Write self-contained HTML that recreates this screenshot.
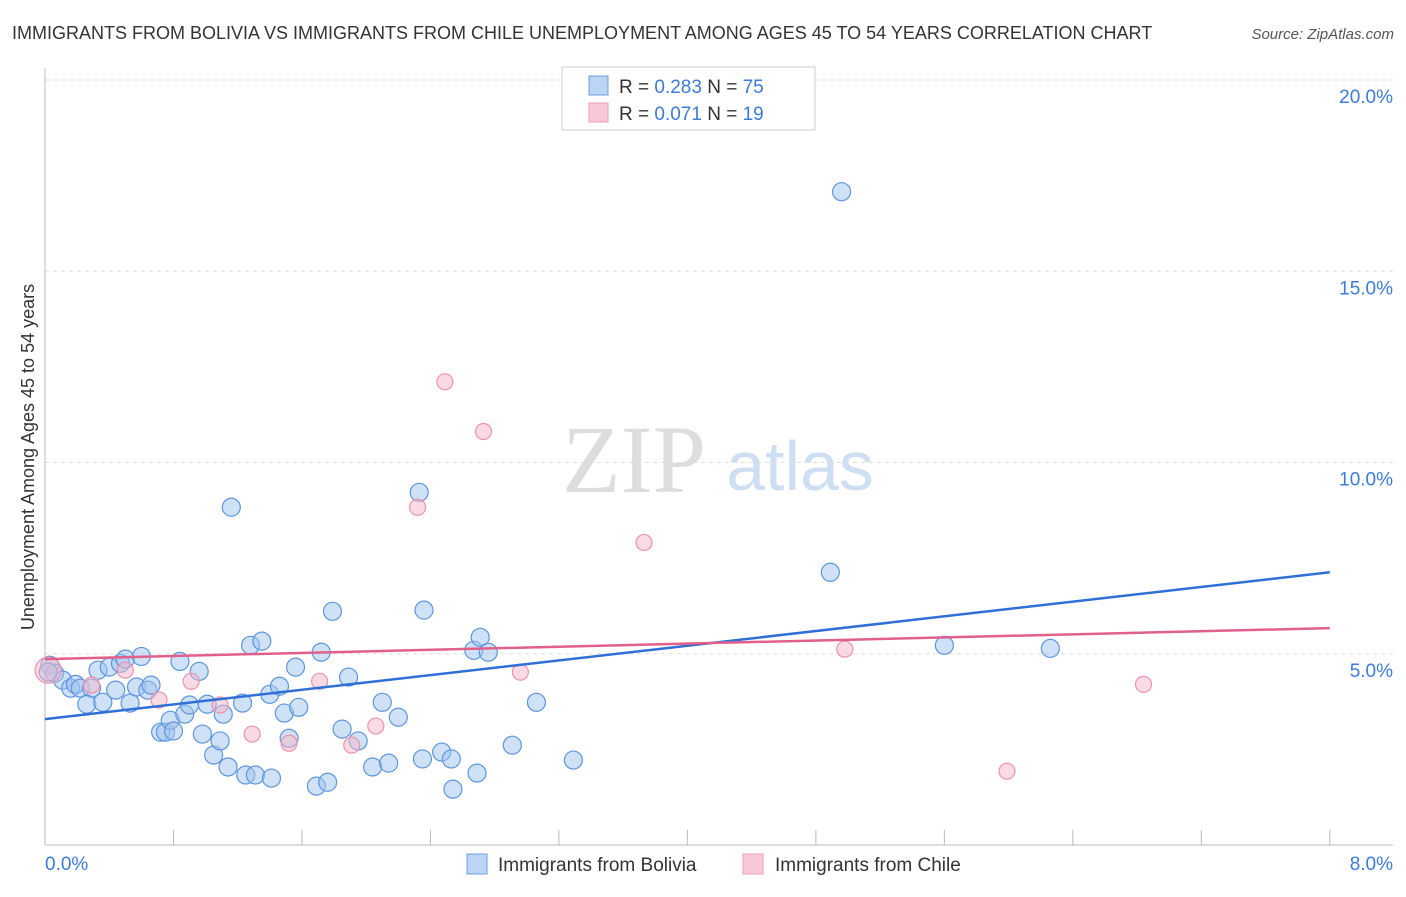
<!DOCTYPE html>
<html><head><meta charset="utf-8"><style>
body{margin:0;background:#fff;font-family:"Liberation Sans",sans-serif}
</style></head><body>
<svg id="c" width="1406" height="892" xmlns="http://www.w3.org/2000/svg" font-family="Liberation Sans, sans-serif">
<text x="12" y="39" font-size="18" fill="#333">IMMIGRANTS FROM BOLIVIA VS IMMIGRANTS FROM CHILE UNEMPLOYMENT AMONG AGES 45 TO 54 YEARS CORRELATION CHART</text>
<text x="1394" y="39" font-size="15" fill="#555" text-anchor="end" font-style="italic">Source: ZipAtlas.com</text>
<text x="634" y="492" font-size="96" fill="#ddd" font-family="Liberation Serif, serif" text-anchor="middle">ZIP</text>
<text x="800" y="490" font-size="70" fill="#cfdff3" text-anchor="middle">atlas</text>
<text transform="translate(34,457) rotate(-90)" font-size="18" fill="#333" text-anchor="middle">Unemployment Among Ages 45 to 54 years</text>
<g id="grid"></g><g id="axes"></g><g id="pts"></g><g id="lines"></g>
<g>
<rect x="562" y="67" width="253" height="63" fill="#fff" stroke="#ccc"/>
<rect x="589" y="76" width="19" height="19" fill="#bcd5f5" stroke="#6c9ee0"/>
<rect x="589" y="103" width="19" height="19" fill="#f9c8d6" stroke="#eba0b8"/>
<text x="619" y="93" font-size="19" fill="#333">R = <tspan fill="#3d7bd8">0.283</tspan>   N = <tspan fill="#3d7bd8">75</tspan></text>
<text x="619" y="120" font-size="19" fill="#333">R = <tspan fill="#3d7bd8">0.071</tspan>   N = <tspan fill="#3d7bd8"> 19</tspan></text>
</g>
<g>
<rect x="467" y="854" width="20" height="20" fill="#bcd5f5" stroke="#6c9ee0"/>
<text x="498" y="871" font-size="19" fill="#333">Immigrants from Bolivia</text>
<rect x="743" y="854" width="20" height="20" fill="#f9c8d6" stroke="#eba0b8"/>
<text x="775" y="871" font-size="19" fill="#333">Immigrants from Chile</text>
</g>
</svg>
<script>
const blueX=[0.03,0.06,0.11,0.16,0.19,0.22,0.29,0.26,0.33,0.36,0.40,0.44,0.47,0.50,0.53,0.57,0.60,0.64,0.66,0.72,0.75,0.78,0.80,0.84,0.87,0.90,0.96,0.98,1.01,1.05,1.09,1.11,1.14,1.16,1.23,1.25,1.28,1.31,1.35,1.40,1.41,1.46,1.49,1.52,1.56,1.58,1.69,1.76,1.79,1.72,1.85,1.89,1.95,2.04,2.10,2.14,2.20,2.33,2.36,2.35,2.47,2.53,2.54,2.67,2.71,2.76,2.69,2.91,3.06,3.29,4.89,4.96,5.60,6.26,0.02];
const blueY=[4.70,4.49,4.31,4.10,4.20,4.10,4.10,3.68,4.57,3.73,4.65,4.05,4.75,4.86,3.71,4.13,4.93,4.05,4.18,2.95,2.95,3.26,2.98,4.80,3.42,3.66,4.54,2.90,3.68,2.35,2.72,3.42,2.04,8.83,3.71,1.83,5.22,1.83,5.33,3.94,1.75,4.15,3.45,2.79,4.65,3.60,1.54,1.64,6.11,5.04,3.03,4.39,2.72,2.04,3.73,2.14,3.34,9.22,6.14,2.25,2.43,2.25,1.46,5.09,5.43,5.04,1.88,2.61,3.73,2.22,7.13,17.08,5.22,5.14,4.52];
const pinkX=[0.02,0.29,0.50,0.71,0.91,1.09,1.29,1.52,1.71,1.91,2.06,2.32,2.49,2.73,2.96,3.73,4.98,5.99,6.84];
const pinkY=[4.57,4.18,4.57,3.79,4.28,3.66,2.90,2.66,4.28,2.61,3.11,8.83,12.11,10.81,4.52,7.91,5.12,1.93,4.20];
const blueTrend=[3.29,7.13];
const pinkTrend=[4.86,5.67];
const yTicks=[5,10,15,20];
const yTickLabels=["5.0%","10.0%","15.0%","20.0%"];
const xTickLabels=["0.0%","8.0%"];
const NS="http://www.w3.org/2000/svg";
const sx=v=>45+v*160.6, sy=v=>845-v*38.25;
function mk(p,t,a){const e=document.createElementNS(NS,t);for(const k in a)e.setAttribute(k,a[k]);document.getElementById(p).appendChild(e);return e;}
yTicks.forEach((t,i)=>{
 const g=mk('grid','line',{x1:45,x2:1393,y1:sy(t),y2:sy(t),stroke:'#ddd','stroke-dasharray':'4,4'});
 
 
 const l=mk('grid','text',{x:1393,y:sy(t)+23,'font-size':19,fill:'#3d7bd8','text-anchor':'end'});
 l.textContent=yTickLabels[i];
 
 
});
mk('axes','line',{x1:45,x2:45,y1:68,y2:845,stroke:'#bbb'});
mk('axes','line',{x1:45,x2:1393,y1:845,y2:845,stroke:'#bbb'});
for(let i=0;i<=10;i++){const t=mk('axes','line',{x1:sx(i*0.8),x2:sx(i*0.8),y1:830,y2:845,stroke:'#bbb'});
 
 }
const xl0=mk('axes','text',{x:45,y:870,'font-size':19,fill:'#3d7bd8'});xl0.textContent=xTickLabels[0];


const xl1=mk('axes','text',{x:1393,y:870,'font-size':19,fill:'#3d7bd8','text-anchor':'end'});xl1.textContent=xTickLabels[1];


blueX.forEach((x,i)=>{const c=mk('pts','circle',{cx:sx(x),cy:sy(blueY[i]),r:9,fill:'rgba(160,196,240,0.5)',stroke:'#5e95dc','stroke-width':1.2});
 
 });
pinkX.forEach((x,i)=>{const c=mk('pts','circle',{cx:sx(x),cy:sy(pinkY[i]),r:i==0?13:8,fill:'rgba(246,184,202,0.5)',stroke:'#eb93ae','stroke-width':1.2});
 
 });
const bl=mk('lines','line',{x1:sx(0),y1:sy(blueTrend[0]),x2:sx(8),y2:sy(blueTrend[1]),stroke:'#2f6fd6','stroke-width':2.5});


const pl=mk('lines','line',{x1:sx(0),y1:sy(pinkTrend[0]),x2:sx(8),y2:sy(pinkTrend[1]),stroke:'#e0608a','stroke-width':2.5});


</script>
</body></html>
